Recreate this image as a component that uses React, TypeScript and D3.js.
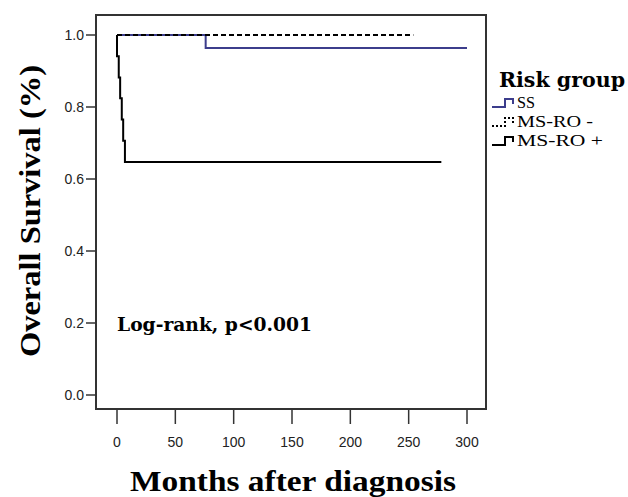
import React from "react";
import * as d3 from "d3";

const xTicks = [0, 50, 100, 150, 200, 250, 300];
const yTicks = [0.0, 0.2, 0.4, 0.6, 0.8, 1.0];

const ssTimes = [0, 76, 300];
const ssSurv = [1.0, 0.964, 0.964];

const msNegTimes = [0, 254];
const msNegSurv = [1.0, 1.0];

const msPosTimes = [0, 0, 1.5, 2.7, 4.1, 5.3, 6.8, 278];
const msPosSurv = [1.0, 0.941, 0.882, 0.824, 0.765, 0.706, 0.647, 0.647];

const legendLabels = ["SS", "MS-RO -", "MS-RO +"];
const legendWidths = [18, 76, 86];
const seriesColors = ["#3c3d8c", "#000000", "#000000"];

export default function App() {
  const W = 628, H = 497;
  const x = d3.scaleLinear().domain([0, 300]).range([117, 467]);
  const y = d3.scaleLinear().domain([0, 1]).range([395, 35]);
  const frame = { l: 96, t: 15, r: 486, b: 409 };

  const line = d3
    .line<[number, number]>()
    .x((d) => x(d[0]))
    .y((d) => y(d[1]))
    .curve(d3.curveStepAfter);

  const zip = (t: number[], s: number[]) => t.map((v, i) => [v, s[i]] as [number, number]);

  const series = [
    { d: line(zip(ssTimes, ssSurv)), color: seriesColors[0], dash: undefined },
    { d: line(zip(msNegTimes, msNegSurv)), color: seriesColors[1], dash: "5,3" },
    { d: line(zip(msPosTimes, msPosSurv)), color: seriesColors[2], dash: undefined },
  ];

  const serif = "'DejaVu Serif', serif";
  const sans = "'Liberation Sans', Arial, sans-serif";
  const titleFont = "'Liberation Serif', 'Times New Roman', serif";

  const legendY = [102, 121, 140];

  return (
    <svg
      width={W}
      height={H}
      style={{ position: "absolute", left: 0, top: 0, background: "#fff" }}
    >
      <rect x={0} y={0} width={W} height={H} fill="#fff" />
      <rect
        x={frame.l}
        y={frame.t}
        width={frame.r - frame.l}
        height={frame.b - frame.t}
        fill="none"
        stroke="#333"
        strokeWidth={2}
      />
      {yTicks.map((v) => (
        <g key={"y" + v}>
          <line x1={86} x2={frame.l} y1={y(v)} y2={y(v)} stroke="#333" strokeWidth={1.5} />
          <text
            x={84}
            y={y(v)}
            dy="0.36em"
            textAnchor="end"
            fontFamily={sans}
            fontSize={14}
            fill="#222"
          >
            {v.toFixed(1)}
          </text>
        </g>
      ))}
      {xTicks.map((v) => (
        <g key={"x" + v}>
          <line x1={x(v)} x2={x(v)} y1={frame.b} y2={424} stroke="#333" strokeWidth={1.5} />
          <text
            x={x(v)}
            y={447}
            textAnchor="middle"
            fontFamily={sans}
            fontSize={14}
            fill="#222"
          >
            {v}
          </text>
        </g>
      ))}
      {series.map((s, i) => (
        <path
          key={i}
          d={s.d || ""}
          fill="none"
          stroke={s.color}
          strokeWidth={2}
          strokeDasharray={s.dash}
        />
      ))}
      <text
        x={117}
        y={331}
        fontFamily={serif}
        fontWeight="bold"
        fontSize={18.5}
        textLength={195}
        lengthAdjust="spacingAndGlyphs"
        fill="#000"
      >
        Log-rank, p&lt;0.001
      </text>
      <text
        x={293}
        y={491}
        textAnchor="middle"
        fontFamily={titleFont}
        fontWeight="bold"
        fontSize={29}
        textLength={326}
        lengthAdjust="spacingAndGlyphs"
        fill="#000"
      >
        Months after diagnosis
      </text>
      <text
        transform={`translate(40,211) rotate(-90)`}
        textAnchor="middle"
        fontFamily={titleFont}
        fontWeight="bold"
        fontSize={29}
        textLength={292}
        lengthAdjust="spacingAndGlyphs"
        fill="#000"
      >
        Overall Survival (%)
      </text>
      <text
        x={499}
        y={87}
        fontFamily={serif}
        fontWeight="bold"
        fontSize={20}
        textLength={126}
        lengthAdjust="spacingAndGlyphs"
        fill="#000"
      >
        Risk group
      </text>
      {legendLabels.map((lab, i) => {
        const cy = legendY[i];
        const d = `M492,${cy + 5}H505V${cy - 3}H513V${cy + 2}`;
        return (
          <g key={lab}>
            <path
              d={d}
              fill="none"
              stroke={seriesColors[i]}
              strokeWidth={2}
              strokeDasharray={i === 1 ? "2,2" : undefined}
            />
            <text
              x={517}
              y={cy + 6}
              fontFamily={titleFont}
              fontSize={17}
              textLength={legendWidths[i]}
              lengthAdjust="spacingAndGlyphs"
              fill="#000"
            >
              {lab}
            </text>
          </g>
        );
      })}
    </svg>
  );
}
